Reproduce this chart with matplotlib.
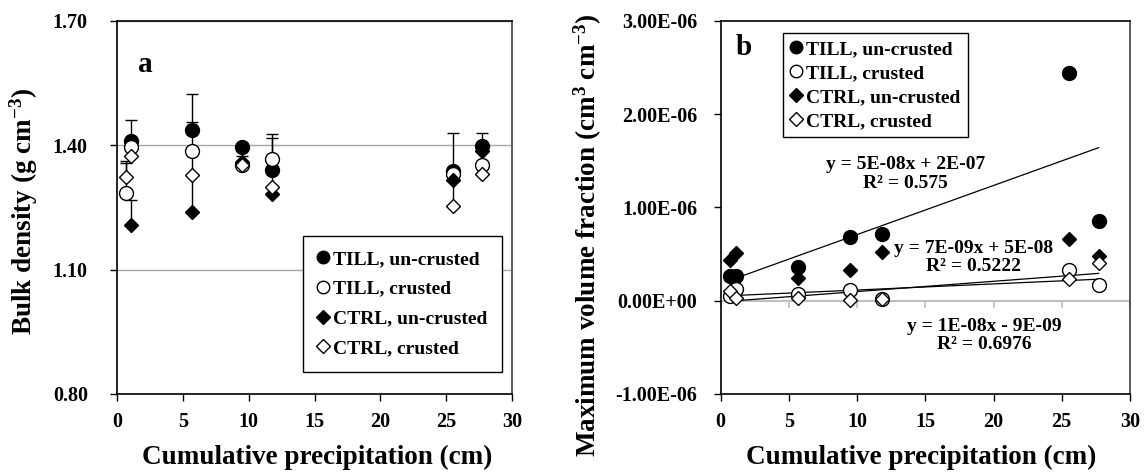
import numpy as np
import matplotlib
matplotlib.use("Agg")
import matplotlib.pyplot as plt
from matplotlib.ticker import FuncFormatter, MultipleLocator

plt.rcParams['font.family'] = ['Liberation Serif', 'DejaVu Serif']
plt.rcParams['font.weight'] = 'bold'
plt.rcParams['axes.labelweight'] = 'bold'
plt.rcParams['mathtext.fontset'] = 'custom'
plt.rcParams['mathtext.rm'] = 'Liberation Serif:bold'
plt.rcParams['mathtext.it'] = 'Liberation Serif:bold'
plt.rcParams['mathtext.bf'] = 'Liberation Serif:bold'

labels = ['TILL, un-crusted', 'TILL, crusted', 'CTRL, un-crusted', 'CTRL, crusted']

# panel a: bulk density (g cm-3), plus-only error bars
a_x_un = [1.1, 5.7, 9.5, 11.8, 25.5, 27.7]
a_x_cr = [0.7, 1.1, 5.7, 9.5, 11.8, 25.5, 27.7]
a_till_un = [1.410, 1.436, 1.397, 1.340, 1.339, 1.399]
a_till_un_err = [0.052, 0.089, 0.000, 0.088, 0.090, 0.030]
a_till_cr = [1.285, 1.396, 1.387, 1.352, 1.368, 1.331, 1.353]
a_till_cr_err = [0.073, 0.000, 0.070, 0.000, 0.050, 0.000, 0.000]
a_ctrl_un = [1.207, 1.239, 1.360, 1.282, 1.316, 1.387]
a_ctrl_un_err = [0.060, 0.090, 0.000, 0.060, 0.000, 0.000]
a_ctrl_cr = [1.323, 1.375, 1.328, 1.352, 1.300, 1.254, 1.330]
a_ctrl_cr_err = [0.040, 0.000, 0.060, 0.022, 0.000, 0.060, 0.000]
a_yticks = [0.8, 1.1, 1.4, 1.7]

# panel b: maximum volume fraction (cm3 cm-3)
b_x = [0.7, 1.1, 5.7, 9.5, 11.8, 25.5, 27.7]
b_till_un = [0.27e-6, 0.27e-6, 0.36e-6, 0.68e-6, 0.72e-6, 2.44e-6, 0.86e-6]
b_till_cr = [0.046e-6, 0.125e-6, 0.075e-6, 0.118e-6, 0.02e-6, 0.33e-6, 0.17e-6]
b_ctrl_un = [0.44e-6, 0.51e-6, 0.24e-6, 0.325e-6, 0.52e-6, 0.66e-6, 0.48e-6]
b_ctrl_cr = [0.10e-6, 0.03e-6, 0.03e-6, 0.01e-6, 0.02e-6, 0.23e-6, 0.40e-6]

eq_till_un = 'y = 5E-08x + 2E-07\nR² = 0.575'
eq_till_cr = 'y = 7E-09x + 5E-08\nR² = 0.5222'
eq_ctrl_cr = 'y = 1E-08x - 9E-09\nR² = 0.6976'

styles = [
    dict(marker='o', ms=10, mfc='black', mec='black'),
    dict(marker='o', ms=10, mfc='white', mec='black'),
    dict(marker='D', ms=7.5, mfc='black', mec='black'),
    dict(marker='D', ms=7.5, mfc='white', mec='black'),
]

fig = plt.figure(figsize=(11.46, 4.74), dpi=100)
ax1 = fig.add_axes([0.1021, 0.1688, 0.3447, 0.7869])
ax2 = fig.add_axes([0.6289, 0.1688, 0.3571, 0.7869])

# ---- panel a ----
series_a = [(a_x_un, a_till_un, a_till_un_err), (a_x_cr, a_till_cr, a_till_cr_err),
            (a_x_un, a_ctrl_un, a_ctrl_un_err), (a_x_cr, a_ctrl_cr, a_ctrl_cr_err)]
for (x, y, e), st in zip(series_a, styles):
    err = [np.zeros(len(e)), e]
    ax1.errorbar(x, y, yerr=err, fmt='none', ecolor='black', elinewidth=1, capsize=4, capthick=1, zorder=2)
for (x, y, e), st, lab in zip(series_a, styles, labels):
    ax1.plot(x, y, ls='none', mew=1, label=lab, zorder=3, **st)

ax1.set_xlim(0, 30)
ax1.set_ylim(0.8, 1.7)
ax1.set_yticks(a_yticks)
ax1.xaxis.set_major_locator(MultipleLocator(5))
ax1.yaxis.set_major_formatter(FuncFormatter(lambda v, p: f'{v:.2f}'))
ax1.grid(axis='y', color='#a6a6a6', lw=1)
ax1.set_axisbelow(True)
ax1.text(1.6, 1.595, 'a', fontsize=21, fontweight='bold', ha='left', va='center')
ax1.legend(loc='lower right', bbox_to_anchor=(0.975, 0.06), frameon=True, fancybox=False,
           edgecolor='black', framealpha=1, fontsize=14, handlelength=0.55, handletextpad=0.25,
           labelspacing=0.62, borderpad=0.75, borderaxespad=0, markerscale=0.9)
ax1.set_ylabel('Bulk density (g cm$^{-3}$)', fontsize=19.5)
ax1.yaxis.set_label_coords(-0.195, 0.489)
ax1.set_xlabel('Cumulative precipitation (cm)', fontsize=19.5)
ax1.xaxis.set_label_coords(0.508, -0.137)

# ---- panel b ----
series_b = [b_till_un, b_till_cr, b_ctrl_un, b_ctrl_cr]
for y, st, lab in zip(series_b, styles, labels):
    ax2.plot(b_x, y, ls='none', mew=1, label=lab, zorder=3, **st)
xs = np.array(b_x)
for y in [b_till_un, b_till_cr, b_ctrl_cr]:
    k, c = np.polyfit(xs, np.array(y), 1)
    ax2.plot([xs.min(), xs.max()], [k * xs.min() + c, k * xs.max() + c], color='black', lw=0.9, zorder=2)

ax2.set_xlim(0, 30)
ax2.set_ylim(-1e-6, 3e-6)
ax2.yaxis.set_major_locator(MultipleLocator(1e-6))
ax2.xaxis.set_major_locator(MultipleLocator(5))
ax2.yaxis.set_major_formatter(FuncFormatter(lambda v, p: f'{v:.2E}'))
ax2.axhline(0, color='#bfbfbf', lw=1.5, zorder=1)
sec = ax2.secondary_xaxis(0.25)
sec.xaxis.set_major_locator(MultipleLocator(5))
sec.tick_params(axis='x', direction='out', length=5, width=1.2, color='#bfbfbf', labelbottom=False)
sec.spines['bottom'].set_visible(False)
ax2.text(1.1, 2.72e-6, 'b', fontsize=21, fontweight='bold', ha='left', va='center')
ax2.text(13.55, 1.36e-6, eq_till_un, fontsize=14, ha='center', va='center', linespacing=1.1)
ax2.text(18.5, 0.46e-6, eq_till_cr, fontsize=14, ha='center', va='center', linespacing=1.1)
ax2.text(19.35, -0.37e-6, eq_ctrl_cr, fontsize=14, ha='center', va='center', linespacing=1.1)
ax2.legend(loc='upper left', bbox_to_anchor=(0.153, 0.968), frameon=True, fancybox=False,
           edgecolor='black', framealpha=1, fontsize=14, handlelength=0.55, handletextpad=0.25,
           labelspacing=0.33, borderpad=0.38, borderaxespad=0, markerscale=0.9)
ax2.set_ylabel('Maximum volume fraction (cm$^{3}$ cm$^{-3}$)', fontsize=19.5)
ax2.yaxis.set_label_coords(-0.286, 0.426)
ax2.set_xlabel('Cumulative precipitation (cm)', fontsize=19.5)
ax2.xaxis.set_label_coords(0.491, -0.137)

for ax in (ax1, ax2):
    for s in ax.spines.values():
        s.set_color('black')
        s.set_linewidth(1.2)
    ax.spines['right'].set_color('#404040')
    ax.tick_params(direction='out', length=5, width=1, labelsize=14.5)
    ax.tick_params(axis='x', pad=8)
    for t in ax.get_xticklabels() + ax.get_yticklabels():
        t.set_fontweight('bold')
ax1.tick_params(axis='y', pad=16)
ax2.tick_params(axis='y', pad=12)

fig.savefig('out.png', dpi=100)
